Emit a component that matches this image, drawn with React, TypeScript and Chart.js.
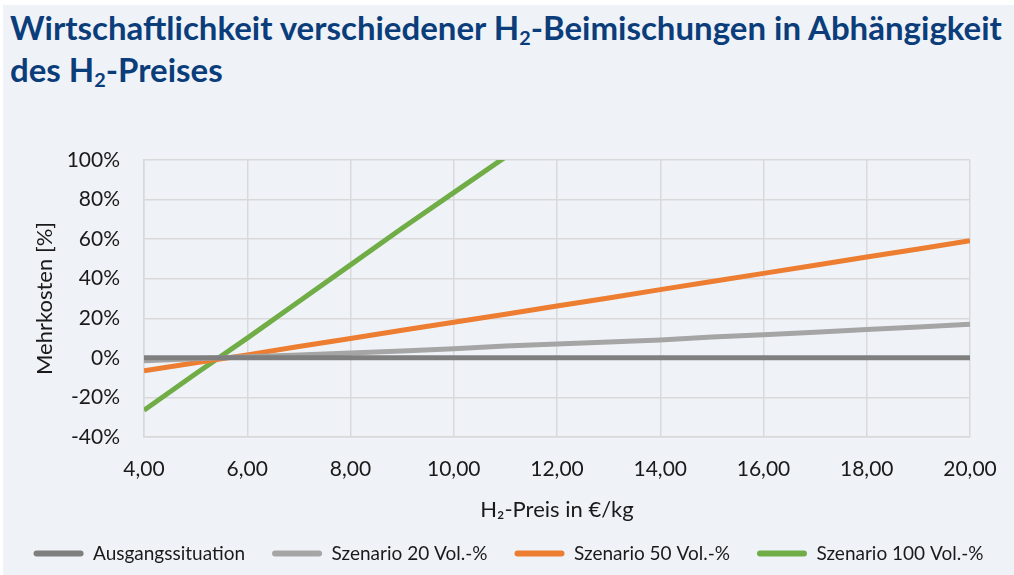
import React, { useEffect, useRef } from "react";
import { Chart, registerables } from "chart.js";

Chart.register(...registerables);

const xValues = [4, 5, 6, 7, 8, 9, 10, 11, 12, 13, 14, 15, 16, 17, 18, 19, 20];
const ausgangssituation = [0, 0, 0, 0, 0, 0, 0, 0, 0, 0, 0, 0, 0, 0, 0, 0, 0];
const szenario20 = [-1.5, -0.5, 0.5, 1.5, 2.5, 3.5, 4.6, 6, 7, 8, 9, 10.5, 11.7, 13, 14.3, 15.6, 17];
const szenario50 = [-6.5, -2.5, 1.5, 5.7, 9.8, 14, 18, 22, 26.2, 30.3, 34.5, 38.6, 42.7, 46.8, 51, 55, 59.2];
const szenario100 = [-26.5, -8, 10, 28.5, 47, 65.5, 83.5, 101.5];

const seriesNames = ["Ausgangssituation", "Szenario 20 Vol.-%", "Szenario 50 Vol.-%", "Szenario 100 Vol.-%"];
const seriesColors = ["#7f7f7f", "#a5a5a5", "#ed7d31", "#70ad47"];

const yTicks = [-40, -20, 0, 20, 40, 60, 80, 100];
const xTicks = [4, 6, 8, 10, 12, 14, 16, 18, 20];

const toPoints = (vals: number[]) => vals.map((v, i) => ({ x: xValues[i], y: v }));

export default function App() {
  const ref = useRef<HTMLCanvasElement | null>(null);

  useEffect(() => {
    if (!ref.current) return;
    const allSeries = [ausgangssituation, szenario20, szenario50, szenario100];
    const chart = new Chart(ref.current, {
      type: "line",
      data: {
        datasets: allSeries.map((vals, i) => ({
          label: seriesNames[i],
          data: toPoints(vals),
          borderColor: seriesColors[i],
          backgroundColor: seriesColors[i],
          borderWidth: 5,
          pointRadius: 0,
          tension: 0,
        })),
      },
      options: {
        responsive: false,
        animation: false,
        layout: { padding: { left: 0, right: 0, top: 55, bottom: 0 } },
        scales: {
          x: {
            type: "linear",
            min: 4,
            max: 20,
            afterBuildTicks: (axis: any) => {
              axis.ticks = xTicks.map((v) => ({ value: v }));
            },
            afterFit: (axis: any) => {
              axis.height = 80;
              axis.paddingRight = 44;
            },
            ticks: {
              color: "#1a1a1a",
              font: { family: "Lato", size: 21 },
              padding: 20,
              maxRotation: 0,
              callback: (v: any) => Number(v).toFixed(2).replace(".", ","),
            },
            grid: { color: "#d9d9d9", lineWidth: 1.5, drawTicks: false },
            border: { color: "#d9d9d9", width: 1.5 },
            title: {
              display: true,
              text: "H₂-Preis in €/kg",
              color: "#1a1a1a",
              font: { family: "Lato", size: 22 },
              padding: { top: 0, bottom: -6 },
            },
          },
          y: {
            min: -40,
            max: 100,
            afterBuildTicks: (axis: any) => {
              axis.ticks = yTicks.map((v) => ({ value: v }));
            },
            afterFit: (axis: any) => {
              axis.width = 141;
            },
            ticks: {
              color: "#1a1a1a",
              font: { family: "Lato", size: 21 },
              padding: 24,
              callback: (v: any) => v + "%",
            },
            grid: { color: "#d9d9d9", lineWidth: 1.5, drawTicks: false },
            border: { color: "#d9d9d9", width: 1.5 },
            title: {
              display: true,
              text: "Mehrkosten [%]",
              color: "#1a1a1a",
              font: { family: "Lato", size: 22 },
              padding: { top: 29, bottom: 0 },
            },
          },
        },
        plugins: {
          legend: {
            position: "bottom",
            labels: {
              boxWidth: 50,
              boxHeight: 6,
              useBorderRadius: true,
              borderRadius: 3,
              color: "#1a1a1a",
              font: { family: "Lato", size: 19 },
              padding: 27,
              generateLabels: (c: any) =>
                Chart.defaults.plugins.legend.labels
                  .generateLabels(c)
                  .map((l: any) => ({ ...l, lineWidth: 0, strokeStyle: "transparent" })),
            },
          },
          tooltip: { enabled: false },
        },
      },
    });
    return () => chart.destroy();
  }, []);

  const subStyle = { fontSize: "0.6em", verticalAlign: "-0.25em", lineHeight: 0 };

  return (
    <div style={{ position: "absolute", left: 0, top: 0, width: 1014, height: 575, background: "#ffffff" }}>
      <div
        style={{
          position: "absolute",
          left: 3,
          top: 5,
          width: 1011,
          height: 570,
          background: "#eff3f8",
          overflow: "hidden",
        }}
      >
        <div
          style={{
            position: "absolute",
            left: 7,
            top: 1,
            width: 1100,
            fontFamily: "Lato",
            fontWeight: 700,
            fontSize: 33,
            lineHeight: "42px",
            color: "#0b3d7b",
            whiteSpace: "nowrap",
          }}
        >
          Wirtschaftlichkeit verschiedener H<sub style={subStyle}>2</sub>-Beimischungen in Abhängigkeit
          <br />
          des H<sub style={subStyle}>2</sub>-Preises
        </div>
        <canvas ref={ref} width={1011} height={468} style={{ position: "absolute", left: 0, top: 100 }} />
      </div>
    </div>
  );
}
